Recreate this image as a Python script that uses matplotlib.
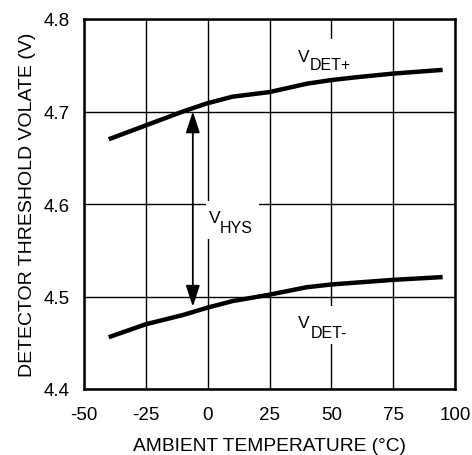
import matplotlib
matplotlib.use("Agg")
import matplotlib.pyplot as plt
from matplotlib.patches import Rectangle

plt.rcParams['font.family'] = ['Liberation Sans', 'DejaVu Sans']
plt.rcParams['axes.unicode_minus'] = False

temp = [-40, -25, -10, 0, 10, 25, 40, 50, 60, 75, 95]
vdet_plus = [4.670, 4.685, 4.700, 4.709, 4.716, 4.721, 4.730, 4.734, 4.737, 4.741, 4.745]
vdet_minus = [4.456, 4.470, 4.480, 4.488, 4.495, 4.502, 4.510, 4.513, 4.515, 4.518, 4.521]

x_ticks = [-50, -25, 0, 25, 50, 75, 100]
y_ticks = [4.4, 4.5, 4.6, 4.7, 4.8]
arrow_x = -6
arrow_top = 4.700
arrow_bottom = 4.489

fig = plt.figure(figsize=(4.72, 4.56), dpi=100)
ax = fig.add_axes([84/472, 66/456, 371/472, 370/456])

ax.set_xlim(-50, 100)
ax.set_ylim(4.4, 4.8)
ax.set_xticks(x_ticks)
ax.set_yticks(y_ticks)
ax.set_yticklabels([f"{v:.1f}" for v in y_ticks])
ax.tick_params(length=0, labelsize=13.5)
ax.tick_params(axis='x', pad=12)
ax.tick_params(axis='y', pad=10)
ax.grid(True, color='black', linewidth=1.0)
ax.set_axisbelow(True)
for s in ax.spines.values():
    s.set_linewidth(1.8)

# white gaps behind labels (interrupting the grid)
for (x0, x1, y0, y1) in [(35.0, 59.5, 4.736, 4.778),
                         (-0.8, 20.7, 4.562, 4.603),
                         (35.0, 59.5, 4.449, 4.490)]:
    ax.add_patch(Rectangle((x0, y0), x1 - x0, y1 - y0, facecolor='white',
                           edgecolor='none', zorder=1.5))

ax.plot(temp, vdet_plus, color='black', linewidth=3.2, solid_capstyle='butt', zorder=3)
ax.plot(temp, vdet_minus, color='black', linewidth=3.2, solid_capstyle='butt', zorder=3)

ax.annotate('', xy=(arrow_x, arrow_top), xytext=(arrow_x, arrow_bottom),
            arrowprops=dict(arrowstyle='<|-|>,head_length=1.3,head_width=0.43',
                            color='black', lw=1.3,
                            mutation_scale=10, shrinkA=0, shrinkB=0), zorder=4)

lab_fs = 12.5
sub_fs = 11.5
ax.text(36.5, 4.7546, 'V', fontsize=lab_fs, ha='left', va='baseline', zorder=2)
ax.text(41.4, 4.7460, 'DET+', fontsize=sub_fs, ha='left', va='baseline', zorder=2)
ax.text(0.4, 4.5806, 'V', fontsize=lab_fs, ha='left', va='baseline', zorder=2)
ax.text(4.9, 4.5697, 'HYS', fontsize=sub_fs, ha='left', va='baseline', zorder=2)
ax.text(36.5, 4.4670, 'V', fontsize=lab_fs, ha='left', va='baseline', zorder=2)
ax.text(41.8, 4.4560, 'DET-', fontsize=sub_fs, ha='left', va='baseline', zorder=2)

ax.set_xlabel('AMBIENT TEMPERATURE (°C)', fontsize=13.8, labelpad=10)
ax.set_ylabel('DETECTOR THRESHOLD VOLATE (V)', fontsize=14, labelpad=6)

fig.savefig('out.png', dpi=100)
